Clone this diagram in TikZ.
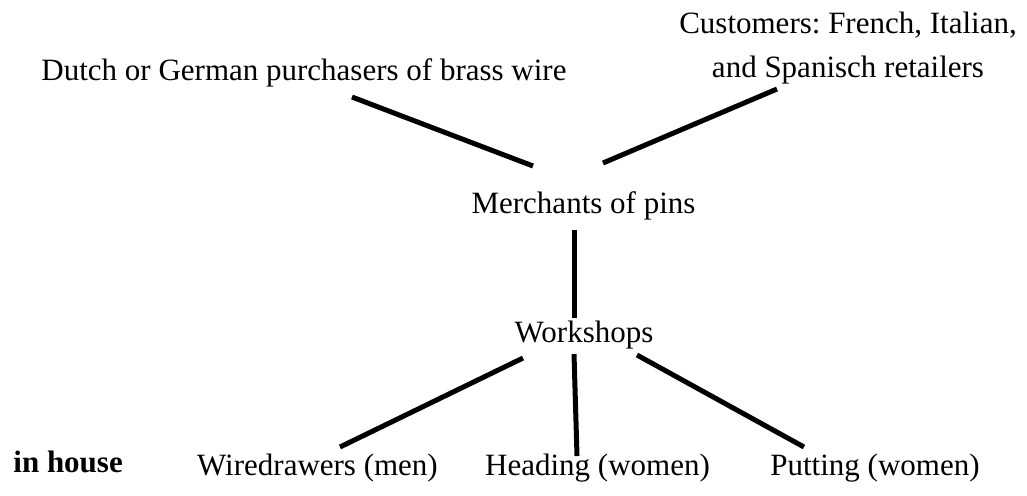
\documentclass[tikz,border=0pt]{standalone}
\usepackage{fontspec}
\setmainfont{Liberation Serif}
\usetikzlibrary{calc}
\frenchspacing

\tikzset{
  etiqueta/.style={inner sep=0pt, anchor=base, font=\fontsize{15.5}{22}\selectfont},
  enlace/.style={line width=2.5pt}
}

\begin{document}
\begin{tikzpicture}[x=0.5pt, y=-0.5pt]
  \useasboundingbox (0,0) rectangle (1027,495);

  % Nivel superior
  \node[etiqueta] (dutch) at (304,80) {Dutch or German purchasers of brass wire};
  \node[etiqueta, anchor=north, align=center] (cust) at (848,12) {Customers: French, Italian,\\and Spanisch retailers};

  % Comerciantes y talleres
  \node[etiqueta] (merch) at (583.5,213) {Merchants of pins};
  \node[etiqueta] (work) at (584,342) {Workshops};

  % Nivel inferior
  \node[etiqueta, anchor=base west, font=\fontsize{15.5}{22}\selectfont\bfseries] (inhouse) at (13,472) {in house};
  \node[etiqueta] (wire) at (317.5,475) {Wiredrawers (men)};
  \node[etiqueta] (head) at (597.5,475) {Heading (women)};
  \node[etiqueta] (put) at (875,475) {Putting (women)};

  % Lineas hacia los comerciantes
  \draw[enlace] ($(dutch.base)+(48,17)$) -- ($(merch.base)+(-50.5,-47)$);
  \draw[enlace] ($(merch.base)+(19.5,-50)$) -- ($(cust.north)+(-71,77)$);

  % Comerciantes a talleres
  \draw[enlace] ($(merch.base)+(-9.5,17)$) -- ($(work.base)+(-10,-24)$);

  % Talleres a los oficios
  \draw[enlace] ($(work.base)+(-61,16)$) -- ($(wire.base)+(22.5,-28)$);
  \draw[enlace] ($(work.base)+(-10,12)$) -- ($(head.base)+(-20.5,-19)$);
  \draw[enlace] ($(work.base)+(53,13)$) -- ($(put.base)+(-71,-28)$);

\end{tikzpicture}
\end{document}
